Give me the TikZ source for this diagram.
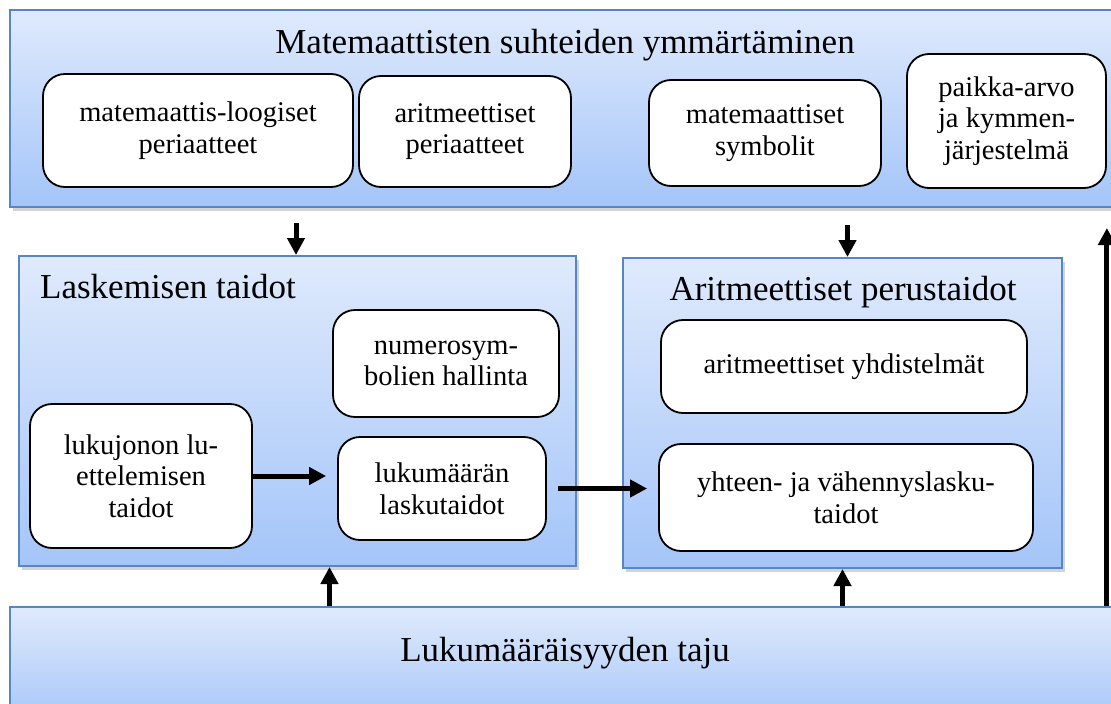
\documentclass[tikz,border=0pt]{standalone}
\usepackage{fontspec}
\setmainfont{Liberation Serif}
\usepackage{tikz}
\usetikzlibrary{positioning,shadows,arrows.meta}

\definecolor{panelTop}{RGB}{223,234,252}
\definecolor{panelBottom}{RGB}{164,197,249}
\definecolor{panelEdge}{RGB}{86,134,198}

\tikzset{
	panel/.style={draw=panelEdge, line width=2pt, top color=panelTop, bottom color=panelBottom,
		drop shadow={shadow xshift=3pt, shadow yshift=-4pt, opacity=0.35}},
	skill/.style={draw=black, line width=1.8pt, fill=white, rounded corners=22pt, align=center,
		inner sep=0pt, font=\fontsize{28.5}{31.5}\selectfont},
	heading/.style={inner sep=0pt, font=\fontsize{35}{40}\selectfont},
	flow/.style={line width=5pt, -{Triangle[length=17pt,width=17pt]}}
}

\begin{document}
\begin{tikzpicture}[x=1pt, y=-1pt]
	\path[use as bounding box, clip] (0,0) rectangle (1111,704);
	% Define nodes
	\node[panel, minimum width=1120pt, minimum height=197pt] (top) at (570,108.5) {};
	\node[heading, anchor=base] (topTitle) at (565,53) {Matemaattisten suhteiden ymmärtäminen};
	\node[skill, minimum width=310pt, minimum height=113pt] (loog) at (198,130.5) {matemaattis-loogiset\\periaatteet};
	\node[skill, minimum width=212pt, minimum height=111pt] (arper) at (465,131.5) {aritmeettiset\\periaatteet};
	\node[skill, minimum width=232pt, minimum height=106pt] (symb) at (765,133) {matemaattiset\\symbolit};
	\node[skill, minimum width=199pt, minimum height=134pt] (paikka) at (1006.5,121) {paikka-arvo\\ja kymmen-\\järjestelmä};

	\node[panel, minimum width=557pt, minimum height=310pt] (lask) at (297.5,411) {};
	\node[heading, anchor=base west] (laskTitle) at (40,298) {Laskemisen taidot};
	\node[skill, minimum width=226pt, minimum height=107pt] (numsym) at (446,363.5) {numerosym-\\bolien hallinta};
	\node[skill, minimum width=222pt, minimum height=144pt] (lukujono) at (141,476) {lukujonon lu-\\ettelemisen\\taidot};
	\node[skill, minimum width=208pt, minimum height=103pt] (lukum) at (442,488.5) {lukumäärän\\laskutaidot};

	\node[panel, minimum width=439pt, minimum height=310pt] (arit) at (842.5,413) {};
	\node[heading, anchor=base] (aritTitle) at (843,300) {Aritmeettiset perustaidot};
	\node[skill, minimum width=366pt, minimum height=93pt] (yhd) at (844,366.5) {aritmeettiset yhdistelmät};
	\node[skill, minimum width=374pt, minimum height=107pt] (yhteen) at (846,497.5) {yhteen- ja vähennyslasku-\\taidot};

	\node[panel, minimum width=1120pt, minimum height=120pt] (taju) at (570,667) {};
	\node[heading, anchor=base] (tajuTitle) at (565,661) {Lukumääräisyyden taju};
	% Connect the nodes
	\draw[flow, shorten <=15pt] ([xshift=-1.5pt]lask.north |- top.south) -- ([xshift=-1.5pt]lask.north);
	\draw[flow, shorten <=17pt] ([xshift=5pt]arit.north |- top.south) -- ([xshift=5pt]arit.north);
	\draw[flow, shorten >=11pt] (lukujono.east) -- (lukujono.east -| lukum.west);
	\draw[flow, shorten <=11pt, shorten >=11pt] (lukum.east) -- (lukum.east -| yhteen.west);
	\draw[flow] ([xshift=32pt]lask.south |- taju.north) -- ([xshift=32pt]lask.south);
	\draw[flow] (arit.south |- taju.north) -- (arit.south);
	\draw[flow, shorten >=20pt] (paikka.east |- taju.north) -- (paikka.east |- top.south);
\end{tikzpicture}
\end{document}
